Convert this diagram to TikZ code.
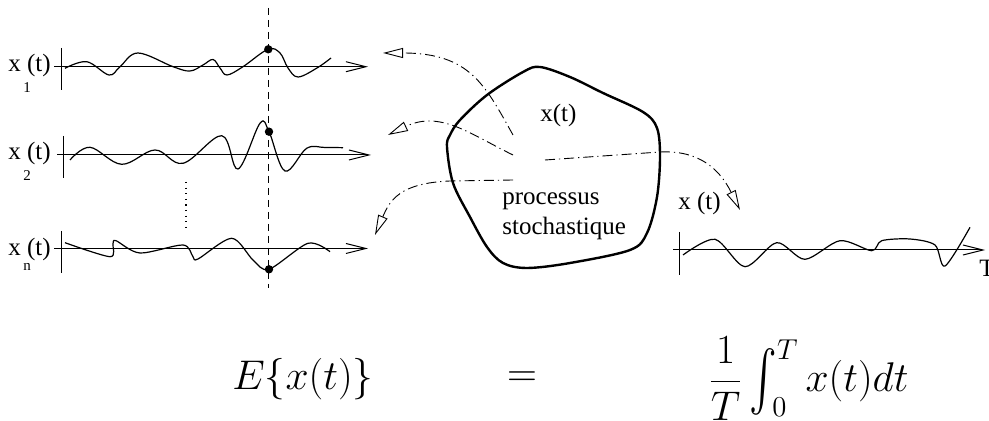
\documentclass[tikz,border=0pt]{standalone}
\usepackage{amsmath}
\usepackage[no-math]{fontspec}
\newfontfamily\lib{Liberation Serif}
\usepackage{graphicx}
\usetikzlibrary{arrows.meta}
\begin{document}
\begin{tikzpicture}[x=0.5pt,y=-0.5pt,
  axis/.style={line width=0.5pt,-{Straight Barb[length=10pt,width=5pt]}},
  ybar/.style={line width=0.5pt},
  wave/.style={line width=0.6pt},
  flow/.style={line width=0.45pt,dash pattern=on 5pt off 2pt on 0.6pt off 2pt,-{Triangle[open,length=10pt,width=5pt]}},
  lbl/.style={font=\lib\fontsize{12.5}{14}\selectfont,inner sep=0,anchor=base west},
  sub/.style={font=\lib\fontsize{7.5}{9}\selectfont,inner sep=0},
  eq/.style={font=\fontsize{19.5}{24}\selectfont,inner sep=0,anchor=base west},
  dot/.style={circle,fill,inner sep=0,minimum size=4.2pt}]
\useasboundingbox (0,0) rectangle (989,421);

% ---------- row 1 ----------
\node[lbl] (l1) at (8,72) {x (t)};
\node[sub] (s1) at (27,88) {1};
\coordinate (a1s) at (54,66.7); \coordinate (a1e) at (368,66.7);
\draw[axis] (a1s) -- (a1e);
\coordinate (b1t) at (61,48); \coordinate (b1b) at (61,90);
\draw[ybar] (b1t) -- (b1b);
\draw[wave] plot[smooth,tension=0.6] coordinates {(65,68.3) (86.7,61.7) (109,75) (120,66.7) (138,53) (173,66.7) (190,71) (203,65) (213,59.5) (220,68) (227,75) (243,66.7) (268,49.3) (280,53) (288,68) (298,77) (317,68) (331,58)};

% ---------- row 2 ----------
\node[lbl] (l2) at (8,160) {x (t)};
\node[sub] (s2) at (27,176) {2};
\coordinate (a2s) at (57,155); \coordinate (a2e) at (371,155);
\draw[axis] (a2s) -- (a2e);
\coordinate (b2t) at (63,136); \coordinate (b2b) at (63,178);
\draw[ybar] (b2t) -- (b2b);
\draw[wave] plot[smooth,tension=0.6] coordinates {(70,160) (90,147.3) (121.7,164.3) (155,150) (183,163.3) (221.7,135.7) (238,169) (260,123.3) (269,131.7) (285,171) (306.7,148.3) (325,147.5) (343,147.7)};

% ---------- row n ----------
\node[lbl] (ln) at (8,256) {x (t)};
\node[sub] (sn) at (27,267) {n};
\coordinate (a3s) at (54,248.5); \coordinate (a3e) at (368,248.5);
\draw[axis] (a3s) -- (a3e);
\coordinate (b3t) at (61,231); \coordinate (b3b) at (61,273);
\draw[ybar] (b3t) -- (b3b);
\draw[wave] plot[smooth,tension=0.5] coordinates {(65,242.7) (110,256.7) (113,244) (116,240.7) (140,253) (183,245) (193,256.7) (198,259) (231.7,238.3) (253,260) (269,269.3) (308,243.3) (330,251.7)};

% dotted ellipsis
\coordinate (dt) at (186,182); \coordinate (db) at (186,227);
\draw[line width=0.6pt,dash pattern=on 0.6pt off 2.2pt] (dt) -- (db);

% dashed vertical line and sample dots
\coordinate (vt) at (268.3,8); \coordinate (vb) at (268.3,288);
\draw[line width=0.5pt,dash pattern=on 3.5pt off 2.5pt] (vt) -- (vb);
\node[dot] (d1) at (268.3,49.3) {};
\node[dot] (d2) at (269,131.7) {};
\node[dot] (d3) at (269,269.3) {};

% ---------- blob ----------
\draw[line width=1.2pt] plot[smooth cycle,tension=0.55] coordinates {(540,67) (570,77) (603,93) (643,112) (657,128) (660,157) (657,197) (647,233) (630,250) (570,263) (527,268) (503,263) (487,247) (470,217) (453,183) (447,147) (450,135) (460,120) (487,95) (523,72)};
\node[lbl] (xt) at (540,122) {x(t)};
\node[lbl] (p1) at (502,205) {processus};
\node[lbl] (p2) at (502,235) {stochastique};

% ---------- flows ----------
\coordinate (f1s) at (513,135); \coordinate (f1e) at (383,53);
\coordinate (f2s) at (513,155); \coordinate (f2e) at (388,135);
\coordinate (f3s) at (513,180); \coordinate (f3e) at (375,235);
\coordinate (f4s) at (545,160); \coordinate (f4e) at (740,210);
\draw[flow] (f1s) .. controls (485,85) and (470,53) .. (f1e);
\draw[flow] (f2s) .. controls (470,134) and (440,110) .. (f2e);
\draw[flow] (f3s) -- (450,181) .. controls (400,183) and (390,200) .. (f3e);
\draw[flow] (f4s) -- (660,152) .. controls (700,150) and (720,170) .. (f4e);

% ---------- right signal ----------
\node[lbl] (xr) at (678,210) {x (t)};
\coordinate (a4s) at (673,250); \coordinate (a4e) at (985,250);
\draw[axis] (a4s) -- (a4e);
\coordinate (b4t) at (679,232); \coordinate (b4b) at (679,275);
\draw[ybar] (b4t) -- (b4b);
\draw[wave] plot[smooth,tension=0.5] coordinates {(683,255) (715,239.3) (745,266.7) (776.7,242.7) (805,259.3) (840,240.7) (871.7,250.7) (881.7,240.7) (910,239) (935,245) (945,266) (970,227.3)};
\node[lbl] (T) at (979,277) {T};

% ---------- equation ----------
\node[eq] (lhs) at (232,390) {$E\{x(t)\}$};
\node[eq,anchor=center] (eqs) at (522,379) {$=$};
\node[eq] (rhs) at (708,392) {$\displaystyle\frac{1}{T}\mathop{\vcenter{\hbox{\scalebox{1}[1.45]{$\textstyle\int$}}}}\nolimits_{\!0}^{T} x(t)dt$};
\end{tikzpicture}
\end{document}
